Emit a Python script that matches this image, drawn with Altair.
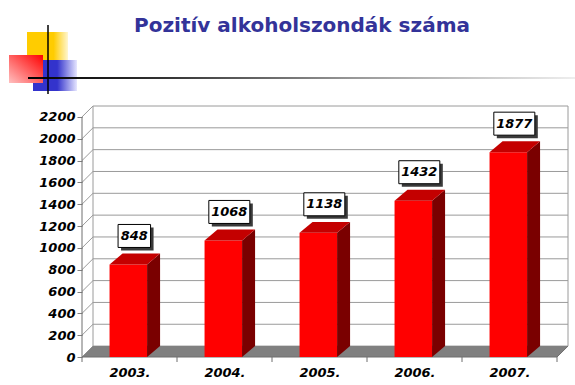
import json
import altair as alt
import pandas as pd

# ---------------- data ----------------
title_text = "Pozitív alkoholszondák száma"
years = ["2003.", "2004.", "2005.", "2006.", "2007."]
counts = [848, 1068, 1138, 1432, 1877]
y_ticks = list(range(0, 2201, 200))

# ---------------- geometry / style ----------------
W, H = 486, 251
N = len(years)
PXX = 95.0                 # px per category
DX = 11 / PXX              # wall depth (x units)
X_MAX = N + DX
Y_TOP = 2200
DY = 100                   # wall depth (y units)
Y_MAX = Y_TOP + DY
PXY = H / Y_MAX

BL, BR = 0.29, 0.685       # bar front face within category
BDX, BDY = 13 / PXX, 100   # bar depth

FONT = "DejaVu Sans"

xs = alt.Scale(domain=[0, X_MAX], nice=False, zero=False)
ys = alt.Scale(domain=[0, Y_MAX], nice=False, zero=False)

x_axis = alt.Axis(
    values=[i + 0.5 for i in range(N)],
    labelExpr="%s[floor(datum.value)]" % json.dumps(years),
    title=None, grid=False, domain=False, ticks=False,
    labelFont=FONT, labelFontSize=13, labelFontStyle="italic",
    labelFontWeight="bold", labelColor="black", labelPadding=9,
    labelOverlap=False, labelFlush=False,
)
y_axis = alt.Axis(
    values=y_ticks, format="d", title=None, grid=False, domain=False, ticks=True,
    tickSize=5, tickColor="#808080",
    labelFont=FONT, labelFontSize=13, labelFontStyle="italic",
    labelFontWeight="bold", labelColor="black", labelPadding=2,
    labelOverlap=False, labelFlush=False,
)


def X(f):
    return alt.X(f, type="quantitative", scale=xs, axis=x_axis)


def Y(f):
    return alt.Y(f, type="quantitative", scale=ys, axis=y_axis)


# ---------------- frame lines ----------------
grid_rows = []
for t in y_ticks:
    grid_rows.append(dict(x=DX, y=t + DY, x2=N + DX, y2=t + DY))
    grid_rows.append(dict(x=0, y=t, x2=DX, y2=t + DY))
grid_rows.append(dict(x=DX, y=DY, x2=DX, y2=Y_TOP + DY))
grid_rows.append(dict(x=N + DX, y=DY, x2=N + DX, y2=Y_TOP + DY))
grid_df = pd.DataFrame(grid_rows)

edge_df = pd.DataFrame([
    dict(x=0, y=0, x2=0, y2=Y_TOP),
    dict(x=0, y=0, x2=N, y2=0),
    dict(x=N, y=0, x2=N + DX, y2=DY),
])

floor_df = pd.DataFrame([
    dict(x=0, y=0, y2=0),
    dict(x=DX, y=0, y2=DY),
    dict(x=N, y=0, y2=DY),
    dict(x=N + DX, y=DY, y2=DY),
])

xtick_df = pd.DataFrame({"x": list(range(N + 1))})

# ---------------- bars ----------------
front_rows, side_rows, top_rows, lab_rows = [], [], [], []
for i, (yr, v) in enumerate(zip(years, counts)):
    front_rows.append(dict(x=i + BL, x2=i + BR, y=0, y2=v, year=yr))
    side_rows += [
        dict(bar=yr, x=i + BR, y=0, y2=v),
        dict(bar=yr, x=i + BR + BDX, y=BDY, y2=v + BDY),
    ]
    top_rows += [
        dict(bar=yr, x=i + BL, y=v, y2=v),
        dict(bar=yr, x=i + BL + BDX, y=v, y2=v + BDY),
        dict(bar=yr, x=i + BR, y=v, y2=v + BDY),
        dict(bar=yr, x=i + BR + BDX, y=v + BDY, y2=v + BDY),
    ]
    txt = str(v)
    cx = i + (BL + BR) / 2 + 6 / PXX
    cy = v + 28.5 / PXY
    hw = (len(txt) * 8.5 + 7) / 2 / PXX
    hh = 11.5 / PXY
    lab_rows.append(dict(
        label=txt, cx=cx, cy=cy,
        bx1=cx - hw, bx2=cx + hw, by1=cy - hh, by2=cy + hh,
        sx1=cx - hw + 3 / PXX, sx2=cx + hw + 3 / PXX,
        sy1=cy - hh - 3 / PXY, sy2=cy + hh - 3 / PXY,
    ))
front_df = pd.DataFrame(front_rows)
side_df = pd.DataFrame(side_rows)
top_df = pd.DataFrame(top_rows)
lab_df = pd.DataFrame(lab_rows)

# ---------------- layers ----------------
grid = alt.Chart(grid_df).mark_rule(color="#9a9a9a", strokeWidth=1).encode(
    x=X("x"), x2=alt.X2("x2"), y=Y("y"), y2=alt.Y2("y2"))

floor = alt.Chart(floor_df).mark_area(
    orient="vertical", interpolate="linear", color="#808080").encode(
    x=X("x"), y=Y("y"), y2=alt.Y2("y2"))

edges = alt.Chart(edge_df).mark_rule(color="#6e6e6e", strokeWidth=1).encode(
    x=X("x"), x2=alt.X2("x2"), y=Y("y"), y2=alt.Y2("y2"))

xticks = alt.Chart(xtick_df).mark_rule(color="#6e6e6e").encode(
    x=X("x"), y=alt.value(H), y2=alt.value(H + 5))

front = alt.Chart(front_df).mark_rect(color="#ff0000").encode(
    x=X("x"), x2=alt.X2("x2"), y=Y("y"), y2=alt.Y2("y2"))

side = alt.Chart(side_df).mark_area(
    orient="vertical", interpolate="linear", color="#7a0000").encode(
    x=X("x"), y=Y("y"), y2=alt.Y2("y2"), detail="bar:N")

top = alt.Chart(top_df).mark_area(
    orient="vertical", interpolate="linear", color="#c40000").encode(
    x=X("x"), y=Y("y"), y2=alt.Y2("y2"), detail="bar:N")

shadow = alt.Chart(lab_df).mark_rect(color="#3a3a3a").encode(
    x=X("sx1"), x2=alt.X2("sx2"), y=Y("sy1"), y2=alt.Y2("sy2"))

box = alt.Chart(lab_df).mark_rect(
    fill="white", stroke="black", strokeWidth=1).encode(
    x=X("bx1"), x2=alt.X2("bx2"), y=Y("by1"), y2=alt.Y2("by2"))

labels = alt.Chart(lab_df).mark_text(
    font=FONT, fontSize=13, fontStyle="italic", fontWeight="bold",
    color="black", align="center", baseline="middle").encode(
    x=X("cx"), y=Y("cy"), text="label:N")

# ---------------- slide decoration ----------------
deco_df = pd.DataFrame({"d": [0]})


def grad(stops, x1=0, y1=0, x2=1, y2=0):
    return alt.Gradient(
        gradient="linear",
        stops=[alt.GradientStop(color=c, offset=o) for o, c in stops],
        x1=x1, y1=y1, x2=x2, y2=y2)


yellow = alt.Chart(deco_df).mark_rect(
    fill=grad([(0, "#ffcc00"), (0.65, "#ffcc00"), (1, "#fff6d0")])).encode(
    x=alt.value(-55), x2=alt.value(-14), y=alt.value(-74), y2=alt.value(-36))
blue = alt.Chart(deco_df).mark_rect(
    fill=grad([(0, "#3333cc"), (0.55, "#3333cc"), (1, "#e6e6ff")])).encode(
    x=alt.value(-49), x2=alt.value(-5), y=alt.value(-46), y2=alt.value(-15))
red = alt.Chart(deco_df).mark_rect(
    fill=grad([(0, "#ff0000"), (1, "#ffc0c0")], x1=1, y1=0, x2=0, y2=1)).encode(
    x=alt.value(-73), x2=alt.value(-39), y=alt.value(-51), y2=alt.value(-23))
hline = alt.Chart(deco_df).mark_rect(
    fill=grad([(0, "#000000"), (0.25, "#333333"), (0.6, "#999999"), (1, "#eeeeee")])).encode(
    x=alt.value(-54), x2=alt.value(493), y=alt.value(-29), y2=alt.value(-27))
vline = alt.Chart(deco_df).mark_rule(color="black", strokeWidth=1.5).encode(
    x=alt.value(-34), y=alt.value(-81), y2=alt.value(-12))

chart = alt.layer(
    yellow, blue, red, hline, vline,
    grid, floor, edges, xticks,
    front, side, top,
    shadow, box, labels,
).properties(
    width=W, height=H,
    title=alt.TitleParams(
        title_text, font=FONT, fontSize=20, fontWeight="bold",
        color="#333399", anchor="middle", frame="group", dx=-23, offset=-12),
    autosize=alt.AutoSizeParams(type="none"),
    padding={"left": 82, "top": 106, "right": 7, "bottom": 28},
    background="white",
).configure_view(stroke=None)

chart.save("out.html", embed_options={"renderer": "svg", "actions": False})
